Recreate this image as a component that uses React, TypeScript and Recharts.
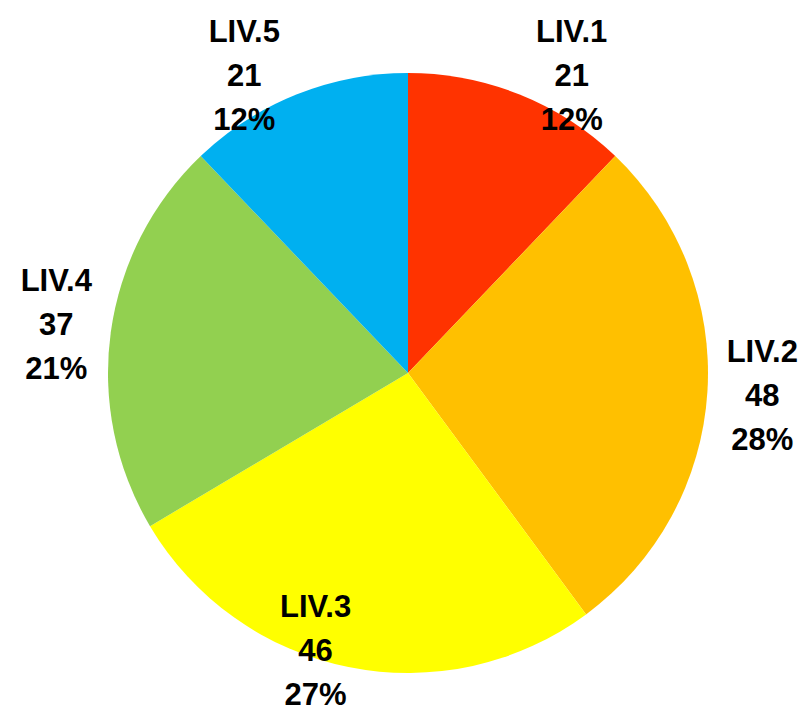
import { PieChart, Pie, Cell } from 'recharts';

// Values
const categories = ['LIV.1', 'LIV.2', 'LIV.3', 'LIV.4', 'LIV.5'];
const counts = [21, 48, 46, 37, 21];
const sliceColors = ['#FF3300', '#FFC000', '#FFFF00', '#92D050', '#00B0F0'];

const data = categories.map((name, i) => ({ name, value: counts[i] }));

const RADIAN = Math.PI / 180;
const LINE_GAP = 44;

// Excel-like "best fit": place along the mid angle, keep inside the chart box
const renderLabel = (props: any) => {
    const { cx, cy, midAngle, percent, name, value } = props;
    const dist = 355;
    const cos = Math.cos(-midAngle * RADIAN);
    const sin = Math.sin(-midAngle * RADIAN);
    let x = cx + dist * cos;
    let y = cy + dist * sin;
    const top = 75;
    const bottom = 650;
    if (y < top) {
        y = top;
        const r = 340;
        x = cx + Math.sign(cos) * Math.sqrt(Math.max(0, r * r - (cy - y) * (cy - y)));
    } else if (y > bottom) {
        y = bottom;
        const r = 292;
        x = cx + Math.sign(cos) * Math.sqrt(Math.max(0, r * r - (y - cy) * (y - cy)));
    }
    const lines = [name, String(value), `${Math.round(percent * 100)}%`];
    return (
        <text
            x={x}
            y={y}
            textAnchor="middle"
            style={{ fontFamily: '"Liberation Sans", Arial, sans-serif', fontWeight: 700, fontSize: '31px' }}
            fill="#000000"
        >
            {lines.map((t, i) => (
                <tspan key={i} x={x} y={y + (i - 1) * LINE_GAP} dominantBaseline="central">
                    {t}
                </tspan>
            ))}
        </text>
    );
};

export default function App() {
    return (
        <div style={{ position: 'fixed', top: 0, left: 0, width: 812, height: 711, background: '#FFFFFF' }}>
            <PieChart width={812} height={711} margin={{ top: 0, right: 0, bottom: 0, left: 0 }}>
                <Pie
                    data={data}
                    dataKey="value"
                    nameKey="name"
                    cx={408}
                    cy={373}
                    outerRadius={300}
                    startAngle={90}
                    endAngle={-270}
                    stroke="none"
                    labelLine={false}
                    label={renderLabel}
                    isAnimationActive={false}
                >
                    {data.map((entry, index) => (
                        <Cell key={`cell-${index}`} fill={sliceColors[index]} />
                    ))}
                </Pie>
            </PieChart>
        </div>
    );
}
